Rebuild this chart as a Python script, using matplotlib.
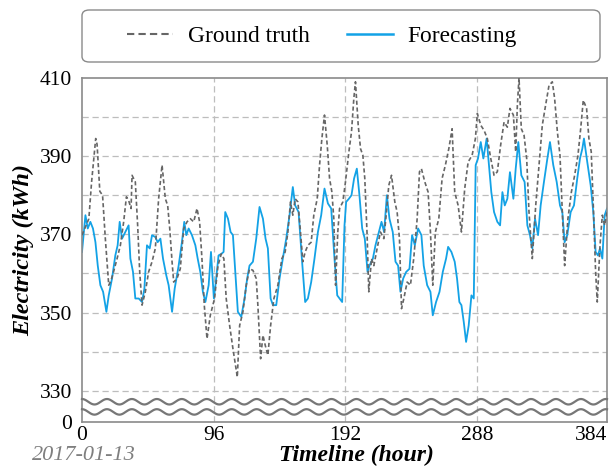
import numpy as np
import matplotlib
matplotlib.use('Agg')
import matplotlib.pyplot as plt
from matplotlib.lines import Line2D
from matplotlib.patches import FancyBboxPatch

plt.rcParams['font.family'] = ['Liberation Serif', 'DejaVu Serif']

# ── data ───────────────────────────────────────────────────
GT_HOURS = [0, 5, 7, 10, 11, 13, 15, 17, 19.5, 21, 23, 25.6, 28, 30.4, 32.4, 34, 35.8, 36.5, 38.9, 40.6,
            42.1, 43.8, 46.2, 48.6, 51.1, 53.5, 55.9, 58.4, 60.8, 62.5, 64, 65.7, 66.9, 69.3, 71.7, 74.2,
            76.6, 79, 81.5, 83.9, 85.8, 87.5, 89.2, 91.2, 93.6,
            96.7, 99.2, 101.6, 103.5, 105.2, 107.7, 110.1, 113.3, 115, 117.4, 119.8, 122.2, 124.7, 127.1,
            128.3, 130.3, 132, 133.7, 135.6, 137.6, 140, 142.9, 145.8, 148.2, 150.2, 152.1, 153.8, 155.5,
            157.5, 159.4, 161.1, 162.8, 164.8, 167.2, 169.1, 171.6, 173.3, 175, 176.9, 178.9, 180.6, 182.3,
            183.7, 185, 186.6, 187.9, 190.3,
            192.2, 194.7, 196.6, 198.3, 199.5, 201.5, 203.2, 204.9, 206.3, 208, 209.2, 211.2, 212.9, 215.3,
            217.7, 220.2, 221.9, 223.8, 225.8, 228.2, 229.9, 231.6, 233.1, 234.8, 237.2, 239.6, 242, 244.5,
            246.2, 247.6, 250.1, 252.5, 254.2, 255.9, 257.8, 260.3, 262.7, 265.1, 267.6, 270, 271.9, 274.4,
            276.8, 279.2, 281.7, 284.6, 287,
            288.4, 290.9, 293.3, 295.7, 298.2, 300.6, 303, 305.4, 307.9, 310.3, 312.2, 314.7, 316.4, 317.6,
            318.8, 320.5, 322.5, 324.4, 326.1, 328.5, 331, 333.4, 335.8, 338.2, 340.7, 343.1, 344.8, 346.8,
            348.7, 350.4, 352.1, 354.5, 357, 359.4, 361.8, 363.8, 365.7, 368.1, 369.8, 371.5, 373, 374.7,
            375.9, 377.9, 379.6, 381.3, 383]
GT_VALUES = [369.8, 374, 383.4, 394.5, 393, 381, 380, 369, 357, 358, 360.4, 363.8, 367.2, 373.2, 379.6, 378.7,
             376.6, 385.1, 383.4, 372.3, 360.4, 351.9, 355.3, 360.4, 363, 366.4, 379.1, 387.7, 379.1, 377.4,
             371.5, 363, 357.8, 358.7, 361.2, 371.5, 373.2, 374, 373.2, 376.6, 373.2, 363.8, 351.9, 343.3,
             349.3,
             353.6, 362, 365, 363.8, 353.6, 346.7, 340.8, 333.5, 346.7, 350.2, 357, 361.2, 360.8, 358.7, 351.9,
             338.2, 344.2, 341.6, 339.1, 346.7, 353.6, 357, 363.8, 365.5, 370.6, 378.3, 374.9, 379.1, 378.3,
             370.6, 363, 365.5, 367.2, 368, 374.9, 379.1, 387.7, 394.5, 400.5, 392.8, 384.3, 380.8, 374, 357,
             370.6, 376.6, 378.3,
             383.4, 391.1, 396.2, 404.7, 409, 397.9, 391.9, 390.2, 384.3, 369.8, 355.3, 363.8, 362, 366.4,
             370.6, 368.9, 374.9, 382.5, 385.1, 378.3, 375.7, 368.9, 351, 353.6, 357.8, 357, 363.8, 374, 386,
             386.8, 383.4, 380.8, 370.6, 357, 370.6, 374, 384.3, 387.7, 391.9, 397, 380.8, 377.4, 370.6,
             381.7, 388.5, 390.2, 394.5,
             400.9, 397.9, 396.6, 394.5, 389.4, 385.1, 386, 392.8, 398.7, 397.4, 402.2, 400.5, 391.1, 403,
             410, 397, 395.3, 389.4, 375.7, 363.8, 377.4, 387.7, 397.9, 403, 408.1, 409, 404.7, 396.2, 390.2,
             375.7, 362, 374, 380.8, 385.1, 390.2, 397, 404.3, 402.2, 394.5, 391.1, 377.4, 360.4, 352.7,
             367.2, 374.9, 372.3, 375.7]

FC_HOURS = [0, 2.5, 4.2, 6.1, 8, 9.8, 11.5, 13.4, 15.4, 17.8, 19.5, 21.9, 24.3, 26, 27.5, 29.2, 31.6, 34,
            35.3, 37.2, 38.9, 41.4, 43.8, 45.5, 47.4, 49.4, 51.1, 53.5, 55.2, 57.2, 59.1, 61.5, 63.2, 65.7,
            67.6, 70.5, 72.9, 74.6, 76.1, 77.8, 80.2, 82.7, 84.4, 86.3, 88.2, 90, 92.4, 94.1,
            96.2, 97.9, 99.6, 101.6, 103.3, 104.5, 106.5, 108.4, 110.1, 111.8, 113.7, 116.2, 118.6, 120.5,
            122.2, 124.7, 127.1, 129.5, 132, 133.9, 135.6, 137.6, 139.3, 141.7, 144.1, 146.5, 149, 151.4,
            153.8, 155.5, 158, 160.4, 162.8, 164.8, 167.2, 169.6, 172.1, 174.5, 176.9, 179.4, 181.8, 184.2,
            186.2, 187.9, 189.8, 191.5,
            192.7, 194.7, 196.6, 198.5, 200.5, 202.4, 204.4, 206.3, 208.3, 209.7, 212.2, 214.1, 216, 218.5,
            220.4, 222.4, 224.3, 226.7, 228.7, 230.6, 232.3, 234.3, 236.5, 238.9, 240.8, 242.8, 245.2, 247.6,
            249.3, 251.8, 254.2, 255.9, 258.3, 260.8, 263.2, 265.6, 267.1, 269.5, 271.9, 273.6, 275.3, 276.8,
            278.5, 280.2, 282.1, 284.1, 285.8,
            287.2, 288.9, 290.9, 292.8, 295.2, 296.9, 298.6, 300.6, 303, 305, 306.7, 308.4, 310.3, 312.2,
            314.7, 316.4, 318.3, 320.5, 322.9, 324.9, 326.8, 328.5, 330.5, 332.7, 334.6, 337, 339.5, 341.4,
            343.8, 346.3, 348.7, 350.4, 352.1, 354, 356.5, 358.9, 361.3, 363.3, 365, 366.2, 368.6, 371.1,
            373, 374.7, 376.4, 377.9, 379.6, 381.3, 383]
FC_VALUES = [365.5, 374.9, 371.5, 373.2, 371.5, 368, 362, 357, 355.3, 350.2, 354.4, 358.7, 364.6, 367.2,
             373.2, 368.9, 370.6, 372.3, 363.8, 360.4, 353.6, 353.6, 352.7, 356.1, 367.2, 366.4, 369.8, 369.3,
             368, 368.9, 363.8, 359.5, 357, 350.2, 356.1, 362, 368, 373.2, 369.8, 371.5, 369.8, 367.2, 363.8,
             360.4, 355.3, 352.7, 357, 365.5,
             353.6, 358.7, 364.6, 365, 365.5, 375.7, 374, 370.6, 369.8, 360.4, 350.2, 348.9, 353.6, 358.7, 362,
             363, 368.9, 377, 374, 368.9, 366.4, 353.6, 351.9, 351.9, 358.7, 363.8, 368.9, 374.9, 382.1, 377.4,
             375.7, 363.8, 352.7, 353.6, 357.8, 363.8, 370.6, 374.9, 381.7, 377.9, 376.6, 363.8, 354.4, 353.6,
             352.7, 372.3,
             378.3, 379.1, 380, 384.3, 386.8, 380, 371.5, 368.9, 360.4, 362, 363.8, 367.2, 369.8, 373.2, 370.6,
             380, 374, 370.6, 363, 362, 355.3, 358.7, 360.4, 361.2, 369.8, 367.2, 371.5, 369.8, 362, 357,
             355.3, 349.3, 352.7, 355.3, 360.4, 363.8, 366.8, 365.5, 363, 358.7, 352.7, 351.9, 347.6, 342.5,
             346.7, 354.4, 353.6,
             387.7, 389.4, 393.6, 389.4, 394.5, 387.7, 380.8, 375.7, 373.2, 372.3, 380.8, 377.4, 379.1, 385.9,
             379.1, 386.8, 393.6, 385.1, 383.4, 372.3, 369.8, 366.4, 374, 369.8, 377.4, 383.4, 389.4, 393.6,
             387.7, 383.4, 377.4, 375.7, 368, 369.8, 375.7, 377.4, 384.3, 389.4, 391.9, 394.5, 388.5, 382.5,
             375.7, 365.5, 364.6, 366.4, 363.8, 374.9, 376.6]

X_TICKS = [0, 96, 192, 288, 383]
X_TICK_LABELS = ['0', '96', '192', '288', '384']
Y_TICKS = [322.1, 330, 350, 370, 390, 410]
Y_TICK_LABELS = ['0', '330', '350', '370', '390', '410']
H_GRID = [330, 340, 350, 360, 370, 380, 390, 400]
V_GRID = [96, 192, 288]

GT_CLR = '#666666'
FC_CLR = '#13a2e6'
GRID_CLR = '#bdbdbd'
EDGE_CLR = '#8a8a8a'

fig = plt.figure(figsize=(6.09, 4.70), dpi=100)
ax = fig.add_axes([82 / 609, 48.3 / 470, 525 / 609, 343.8 / 470])

for y in H_GRID:
    ax.axhline(y, color=GRID_CLR, lw=0.9, linestyle=(0, (5, 3)), zorder=1)
for x in V_GRID:
    ax.axvline(x, color=GRID_CLR, lw=0.9, linestyle=(0, (5, 3)), zorder=1)

ax.plot(GT_HOURS, GT_VALUES, color=GT_CLR, lw=1.2, linestyle=(0, (2.5, 1.6)), zorder=3)
ax.plot(FC_HOURS, FC_VALUES, color=FC_CLR, lw=1.3, zorder=2)

# axis-break wavy marks
wx = np.linspace(0, 383, 800)
wave = 0.7 * np.cos(2 * np.pi * wx / 18.2)
ax.plot(wx, 327.2 + wave, color='#777777', lw=1.6, zorder=4, clip_on=False)
ax.plot(wx, 324.6 + wave, color='#777777', lw=1.6, zorder=4, clip_on=False)

ax.set_xlim(0, 383)
ax.set_ylim(322.1, 410)
ax.set_xticks(X_TICKS)
ax.set_xticklabels(X_TICK_LABELS, fontsize=15.5)
ax.xaxis.get_majorticklabels()[-1].set_horizontalalignment('right')
ax.set_yticks(Y_TICKS)
ax.set_yticklabels(Y_TICK_LABELS, fontsize=15.5)
ax.tick_params(axis='both', length=0)
ax.tick_params(axis='x', pad=3)
ax.tick_params(axis='y', pad=7)
for s in ax.spines.values():
    s.set_color(EDGE_CLR)
    s.set_linewidth(1.2)

ax.set_ylabel('Electricity (kWh)', fontsize=17.5, fontweight='bold', fontstyle='italic', labelpad=4)
fig.text(356 / 609, 1 - 455 / 470, 'Timeline (hour)', fontsize=17, fontweight='bold',
         fontstyle='italic', ha='center', va='center')
fig.text(84 / 609, 1 - 455 / 470, '2017-01-13', fontsize=16, fontstyle='italic',
         color='#7f7f7f', ha='center', va='center')

# legend box
box = FancyBboxPatch((82 / 609, 1 - 62 / 470), 518 / 609, 52 / 470,
                     boxstyle='round,pad=0,rounding_size=0.012', transform=fig.transFigure,
                     facecolor='white', edgecolor=EDGE_CLR, lw=1.0)
fig.patches.append(box)
handles = [Line2D([], [], color=GT_CLR, lw=1.5, linestyle=(0, (3.5, 2))),
           Line2D([], [], color=FC_CLR, lw=1.8)]
fig.legend(handles, ['Ground truth', 'Forecasting'], loc='center',
           bbox_to_anchor=(322 / 609, 1 - 36 / 470), ncol=2, frameon=False, fontsize=16.8,
           handlelength=1.97, handletextpad=0.64, columnspacing=1.6)

fig.savefig('out.png', dpi=100)
